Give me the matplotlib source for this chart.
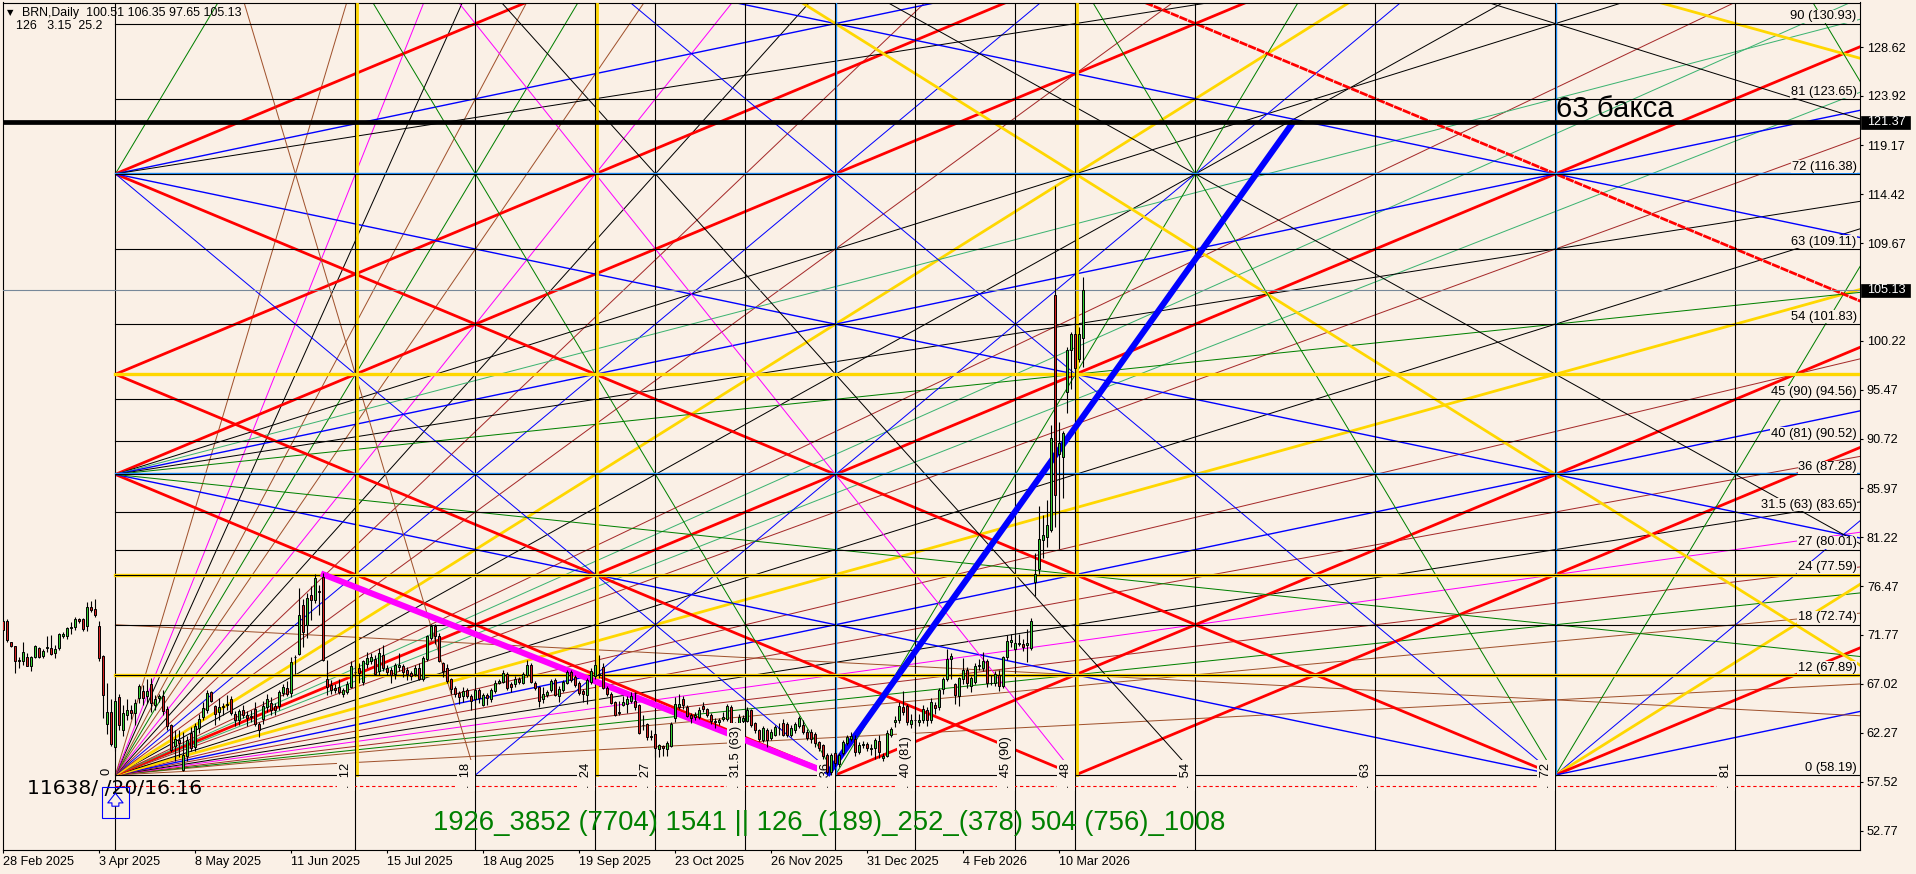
import matplotlib
matplotlib.use("Agg")
import matplotlib.pyplot as plt
from matplotlib.patches import FancyArrowPatch, Rectangle

BG = "#FAF0E6"
BROWN = "#A52A2A"
SIENNA = "#A0522D"
TEAL = "#3CB371"
GREEN = "#008000"
GOLD = "#FFD700"
BLUE = "#0000FF"
RED = "#FF0000"
MAG = "#FF00FF"
DODGER = "#1E90FF"

opens = [73.1, 73.1, 71.1, 70.7, 69.2, 69.2, 69.6, 68.7, 69.6, 70.5,
         69.7, 70.5, 70.5, 70.0, 70.5, 71.6, 71.6, 72.4, 72.5, 73.3,
         73.3, 72.6, 74.5, 74.3, 72.6, 69.7, 63.1, 64.3, 60.9, 65.7,
         62.5, 64.0, 64.5, 64.2, 65.6, 66.3, 65.8, 67.0, 65.0, 65.6,
         65.8, 64.6, 63.0, 61.0, 61.6, 58.7, 60.0, 62.3, 60.9, 62.7,
         63.8, 64.5, 66.2, 64.9, 64.3, 64.9, 65.0, 65.5, 64.1, 63.5,
         64.5, 64.0, 63.8, 64.6, 63.1, 63.6, 64.8, 65.2, 64.9, 64.9,
         66.1, 66.6, 66.1, 69.6, 69.9, 74.6, 72.7, 75.6, 75.1, 76.0,
         77.4, 67.5, 66.9, 66.6, 66.7, 66.0, 66.2, 66.7, 68.2, 68.5,
         67.2, 68.9, 69.2, 69.4, 68.3, 69.8, 68.5, 68.4, 68.0, 68.6,
         68.7, 68.4, 68.1, 68.0, 68.5, 67.5, 69.4, 71.5, 72.6, 71.6,
         69.0, 68.5, 67.5, 66.6, 66.1, 65.8, 66.4, 65.8, 65.5, 66.4,
         65.0, 65.9, 65.5, 66.3, 67.1, 67.2, 68.0, 67.0, 67.0, 67.5,
         67.1, 67.9, 68.8, 67.1, 66.7, 65.5, 65.9, 66.4, 67.4, 65.8,
         66.4, 67.1, 68.2, 67.7, 67.1, 66.3, 65.9, 67.2, 67.8, 67.9,
         68.6, 66.6, 66.0, 65.3, 64.2, 65.0, 65.1, 65.4, 65.4, 65.0,
         63.0, 63.1, 61.9, 62.2, 60.7, 61.0, 60.7, 61.0, 63.7, 64.8,
         65.5, 64.8, 64.0, 63.8, 63.8, 64.9, 64.6, 64.0, 63.4, 63.3,
         63.6, 63.6, 64.8, 62.4, 63.0, 63.4, 63.4, 64.5, 63.2, 62.5,
         61.6, 62.5, 61.8, 62.1, 62.7, 63.2, 63.1, 62.1, 62.5, 62.9,
         63.0, 62.4, 62.4, 62.2, 61.4, 61.1, 60.1, 58.5, 60.3, 59.3,
         60.3, 61.3, 61.7, 61.7, 60.4, 61.1, 61.2, 60.7, 60.8, 61.5,
         59.8, 60.0, 62.1, 63.3, 63.5, 64.8, 64.9, 63.1, 63.5, 63.3,
         63.5, 64.5, 63.5, 65.0, 64.8, 66.5, 67.5, 69.4, 67.0, 65.8,
         67.5, 68.4, 66.8, 67.2, 68.7, 68.5, 69.2, 67.1, 67.1, 67.9,
         66.8, 69.6, 71.1, 70.4, 70.9, 70.9, 70.8, 70.5, 76.9, 78.1,
         80.9, 81.2, 81.9, 104.7, 89.3, 89.0, 95.3, 99.3, 100.9, 98.5,
         100.51]
highs = [73.2, 73.3, 71.1, 70.7, 69.6, 71.1, 70.0, 69.7, 70.8, 70.6,
         70.4, 71.6, 71.7, 70.8, 71.9, 72.0, 72.5, 73.0, 73.5, 73.4,
         73.4, 74.9, 75.0, 75.2, 73.1, 69.8, 67.1, 65.5, 65.6, 66.0,
         65.0, 65.5, 65.0, 65.5, 67.0, 66.9, 67.5, 67.6, 65.9, 66.0,
         66.4, 64.9, 63.1, 62.5, 62.5, 62.4, 62.0, 62.8, 63.2, 64.1,
         65.3, 66.4, 66.3, 65.0, 65.6, 65.2, 65.9, 65.8, 64.4, 64.6,
         65.0, 64.4, 64.5, 65.3, 63.3, 65.4, 66.0, 65.7, 65.2, 66.4,
         67.0, 67.3, 69.6, 69.8, 76.3, 75.2, 75.8, 76.5, 77.6, 76.6,
         77.7, 69.3, 67.4, 67.0, 67.5, 66.6, 67.3, 69.2, 68.8, 69.0,
         69.3, 70.1, 70.0, 69.8, 70.5, 70.8, 68.8, 68.6, 69.0, 70.0,
         68.9, 68.6, 68.3, 68.8, 69.0, 69.7, 71.7, 72.8, 72.8, 71.9,
         69.1, 68.9, 67.6, 66.8, 66.3, 66.7, 66.6, 66.0, 66.5, 66.6,
         66.1, 66.1, 66.6, 67.4, 67.5, 68.4, 68.2, 67.2, 67.8, 67.7,
         68.2, 69.3, 69.0, 67.3, 66.8, 66.7, 66.4, 67.5, 67.6, 66.8,
         67.4, 68.4, 68.4, 67.9, 67.3, 66.5, 67.6, 68.5, 69.3, 69.8,
         69.0, 66.8, 66.2, 65.4, 65.4, 65.8, 65.8, 66.2, 66.2, 65.1,
         64.0, 63.2, 62.5, 62.3, 61.2, 61.1, 61.5, 63.3, 65.7, 66.0,
         65.8, 65.0, 64.2, 64.3, 64.8, 65.3, 64.7, 64.2, 63.7, 63.7,
         64.3, 65.1, 65.0, 63.3, 64.1, 64.0, 64.8, 64.6, 63.3, 62.6,
         62.9, 62.7, 62.6, 63.0, 63.2, 63.6, 63.3, 63.0, 63.3, 63.9,
         63.5, 62.6, 62.6, 62.4, 61.5, 61.2, 60.3, 60.3, 60.5, 60.3,
         61.6, 62.1, 62.4, 62.1, 61.4, 61.5, 61.4, 61.2, 61.8, 62.1,
         60.3, 62.5, 62.8, 63.9, 65.3, 66.3, 65.1, 64.1, 64.5, 64.1,
         65.0, 64.8, 65.6, 65.3, 66.6, 67.7, 70.4, 70.0, 67.1, 67.7,
         69.5, 68.6, 67.8, 69.0, 69.4, 70.1, 69.4, 67.9, 68.3, 68.4,
         69.7, 71.7, 71.8, 71.4, 71.8, 71.4, 72.3, 73.4, 79.7, 84.2,
         83.4, 84.8, 92.1, 115.2, 92.4, 91.5, 99.6, 101.1, 103.1, 101.6,
         106.35]
lows = [72.2, 71.1, 70.6, 68.1, 68.5, 68.8, 68.7, 68.3, 69.5, 69.5,
        69.5, 70.1, 69.8, 69.5, 70.3, 71.5, 71.4, 71.8, 72.2, 72.9,
        72.1, 72.1, 74.0, 73.5, 69.2, 63.7, 62.2, 61.0, 60.5, 62.5,
        62.0, 63.5, 63.6, 63.0, 65.2, 65.0, 65.2, 64.3, 64.5, 65.3,
        64.0, 62.5, 60.4, 59.5, 59.9, 58.6, 59.5, 60.5, 60.5, 62.3,
        63.5, 64.2, 65.3, 63.0, 63.5, 64.0, 64.5, 64.0, 62.9, 63.0,
        63.7, 62.9, 63.3, 62.9, 61.9, 63.1, 64.3, 64.0, 64.0, 64.5,
        65.8, 65.8, 65.7, 68.0, 69.8, 70.6, 71.5, 73.2, 74.8, 73.7,
        69.2, 65.9, 66.0, 66.1, 66.0, 65.7, 66.0, 66.6, 67.5, 67.1,
        66.9, 68.5, 68.9, 67.9, 67.9, 68.3, 67.9, 67.1, 67.5, 68.3,
        67.7, 67.4, 67.4, 67.8, 67.4, 67.3, 69.2, 71.3, 70.9, 69.1,
        67.7, 67.1, 66.0, 65.7, 65.1, 65.3, 65.6, 64.5, 65.2, 65.2,
        64.9, 65.0, 65.3, 66.1, 67.0, 67.1, 66.4, 66.2, 66.7, 67.0,
        67.0, 67.7, 67.1, 66.4, 64.8, 65.2, 65.7, 66.2, 65.8, 65.3,
        66.2, 67.0, 67.2, 66.7, 65.9, 65.3, 65.1, 67.0, 67.5, 67.6,
        66.5, 65.8, 65.1, 63.9, 64.0, 64.9, 64.2, 65.2, 64.5, 62.2,
        62.5, 61.6, 61.6, 59.9, 59.9, 60.0, 60.0, 60.9, 63.3, 64.6,
        64.6, 63.8, 63.2, 63.5, 63.6, 64.3, 63.8, 63.1, 62.7, 63.0,
        63.4, 63.4, 62.2, 62.2, 62.7, 63.2, 63.3, 62.8, 62.3, 61.5,
        61.4, 60.9, 61.6, 62.0, 62.1, 62.0, 61.9, 61.9, 62.3, 62.7,
        62.2, 61.6, 61.3, 60.9, 60.5, 59.7, 58.3, 58.2, 59.0, 59.0,
        60.1, 61.1, 61.5, 60.0, 60.2, 60.8, 60.5, 60.1, 59.7, 59.8,
        59.5, 59.9, 61.9, 62.8, 63.2, 64.0, 63.0, 62.7, 62.9, 62.9,
        63.2, 62.9, 63.2, 64.1, 64.5, 66.0, 67.3, 67.5, 65.1, 64.9,
        67.0, 66.6, 66.2, 67.0, 68.4, 68.3, 66.7, 66.9, 66.8, 66.3,
        66.6, 69.3, 70.6, 70.2, 70.7, 70.2, 69.1, 70.3, 75.5, 77.6,
        79.2, 80.3, 81.7, 82.2, 80.1, 85.0, 93.2, 95.6, 96.8, 98.2,
        97.65]
closes = [72.2, 71.3, 70.7, 69.2, 69.3, 70.1, 68.7, 69.6, 70.7, 69.6,
          70.2, 70.6, 69.9, 70.4, 71.8, 71.8, 72.4, 72.5, 73.3, 73.1,
          72.3, 74.5, 74.2, 73.7, 69.5, 65.9, 64.3, 61.2, 65.4, 63.0,
          64.2, 64.5, 64.2, 65.2, 66.8, 65.6, 66.3, 65.2, 65.5, 65.8,
          64.4, 62.9, 60.6, 61.7, 61.3, 60.1, 61.6, 60.8, 62.9, 63.6,
          64.7, 66.1, 65.4, 64.1, 64.8, 64.8, 65.1, 64.2, 63.5, 64.4,
          64.0, 63.7, 63.9, 63.1, 62.5, 64.9, 65.5, 64.5, 64.5, 66.2,
          66.7, 66.0, 69.1, 69.6, 73.7, 72.0, 75.3, 75.1, 77.3, 75.9,
          69.3, 66.7, 66.4, 66.4, 66.2, 66.4, 67.0, 68.7, 68.2, 68.1,
          69.2, 69.5, 69.6, 68.0, 70.0, 68.5, 68.2, 67.9, 68.8, 68.8,
          68.2, 68.0, 67.8, 68.5, 67.5, 69.5, 71.6, 72.6, 71.6, 69.2,
          68.3, 67.3, 66.5, 66.0, 65.7, 66.3, 65.8, 65.4, 66.4, 65.6,
          65.9, 65.6, 66.4, 67.1, 67.3, 68.1, 66.6, 66.7, 67.5, 67.2,
          68.0, 68.8, 67.2, 66.6, 65.4, 66.0, 66.2, 67.3, 65.9, 66.5,
          67.2, 68.2, 67.4, 66.9, 66.1, 66.0, 67.4, 68.3, 68.8, 68.0,
          66.6, 66.0, 65.2, 64.0, 64.3, 65.3, 65.5, 65.8, 64.8, 62.3,
          63.0, 61.9, 62.0, 60.8, 61.1, 60.8, 61.3, 63.1, 65.1, 65.1,
          65.0, 63.9, 63.7, 64.0, 64.5, 64.6, 64.0, 63.4, 63.3, 63.5,
          63.8, 64.9, 62.4, 62.6, 63.8, 63.7, 64.5, 63.0, 62.5, 61.7,
          62.7, 61.6, 62.4, 62.8, 62.7, 62.1, 62.1, 62.7, 63.1, 63.7,
          62.4, 61.8, 61.7, 61.3, 60.8, 60.0, 58.5, 60.1, 59.4, 60.1,
          61.4, 61.9, 62.0, 60.4, 61.1, 61.2, 60.8, 60.8, 61.6, 60.4,
          60.0, 62.3, 62.6, 63.5, 64.9, 64.3, 63.3, 63.5, 63.5, 63.5,
          64.6, 63.5, 65.3, 64.7, 66.4, 67.5, 69.4, 69.7, 65.9, 67.6,
          68.4, 67.1, 67.6, 68.7, 68.8, 69.2, 67.1, 67.1, 68.0, 66.8,
          69.6, 71.2, 71.3, 71.0, 71.0, 70.6, 71.0, 73.1, 77.6, 81.0,
          81.4, 82.4, 90.8, 85.3, 90.3, 91.3, 99.3, 100.9, 97.6, 100.9,
          105.13]

tick_dates = ["28 Feb 2025", "3 Apr 2025", "8 May 2025", "11 Jun 2025", "15 Jul 2025",
              "18 Aug 2025", "19 Sep 2025", "23 Oct 2025", "26 Nov 2025", "31 Dec 2025",
              "4 Feb 2026", "10 Mar 2026"]
tick_bars = [0, 24, 48, 72, 96, 120, 144, 168, 192, 216, 240, 264]
price_ticks = [128.62, 123.92, 119.17, 114.42, 109.67, 100.22, 95.47, 90.72, 85.97,
               81.22, 76.47, 71.77, 67.02, 62.27, 57.52, 52.77]

level_deg = [0, 12, 18, 24, 27, 31.5, 36, 40, 45, 54, 63, 72, 81, 90]
level_names = ["0 (58.19)", "12 (67.89)", "18 (72.74)", "24 (77.59)", "27 (80.01)",
               "31.5 (63) (83.65)", "36 (87.28)", "40 (81) (90.52)", "45 (90) (94.56)",
               "54 (101.83)", "63 (109.11)", "72 (116.38)", "81 (123.65)", "90 (130.93)"]
level_prices = [58.19, 67.89, 72.74, 77.59, 80.01, 83.65, 87.28, 90.52, 94.56,
                101.83, 109.11, 116.38, 123.65, 130.93]
time_deg = [12, 18, 24, 27, 31.5, 36, 40, 45, 48, 54, 63, 72, 81]
time_names = ["12", "18", "24", "27", "31.5 (63)", "36", "40 (81)", "45 (90)", "48", "54", "63", "72", "81"]

# fan from the low, slope in degrees of price per degree of time
origin_slopes = [1/8, 2/9, 1/4, 2/7, 1/3, 3/8, 7/16, 1/2, 4/7, 2/3, 3/4, 7/8, 15/16, 1,
                 16/15, 8/7, 4/3, 3/2, 7/4, 2, 16/7, 8/3, 3, 7/2, 4, 9/2, 16/3, 6, 8]
origin_colors = [SIENNA, SIENNA, GREEN, BROWN, MAG, "black", BROWN, BLUE, BROWN, GOLD, "black", BROWN, TEAL, RED,
                 TEAL, BROWN, "black", GOLD, BROWN, BLUE, BROWN, "black", MAG, SIENNA, GREEN, SIENNA, "black", MAG, SIENNA]

# other rays: start time, start degree, slope, colour
ray_times = [0, 0, 0, 0, 0, 0, 0, 0, 0, 0, 0,
             18, 36, 36, 48, 72, 72, 72, 72, 72,
             0, 0, 0, 0, 0, 0, 0, 0, 0, 0,
             0, 0, 0, 0, 0, 0, 0, 0, 0, 0, 0]
ray_degs = [36, 36, 36, 36, 36, 36, 48, 72, 72, 72, 72,
            0, 0, 0, 0, 0, 0, 0, 0, 0,
            18, 36, 36, 36, 48, 72, 72, 72, 108, 144,
            144, 144, 144, 144, 144, 144, 144, 144, 144, 288, 432]
ray_slopes = [1, 3/4, 5/8, 1/2, 3/8, 1/4, 1, 4, 1, 1/2, 3/8,
              2, 4, 1, 1, 4, 2, 3/2, 1, 1/2,
              -1/8, -1, -1/2, -1/4, -1, -1, -1/2, -2, -1/2, -1,
              -2, -4, -8/3, -3, -8, -4/3, -3/4, -3/2, -2/3, -4, -4]
ray_colors = [RED, "black", TEAL, BLUE, "black", GREEN, RED, GREEN, RED, BLUE, "black",
              BLUE, GREEN, RED, RED, GREEN, BLUE, GOLD, RED, BLUE,
              SIENNA, RED, BLUE, GREEN, RED, RED, BLUE, BLUE, BLUE, RED,
              BLUE, GREEN, "black", MAG, SIENNA, "black", "black", GOLD, GOLD, GREEN, GREEN]

DEG = 0.8082
BARS_PER_DEG = 5
BAR0 = 28.1
TMAX = 110
FS_AXIS = 9.1
FS_LABEL = 9.3


def to_bar(t):
    return BAR0 + BARS_PER_DEG * t


def to_price(d):
    return level_prices[0] + DEG * d


def line_width(color, slope):
    if color in (RED, GOLD):
        return 2.0
    if color == BLUE and abs(slope) == 0.5:
        return 1.0
    return 0.72


def draw_ray(ax, t0, d0, slope, color):
    if slope < 0:
        t1 = t0 - d0 / slope
    else:
        t1 = TMAX
    d1 = d0 + slope * (t1 - t0)
    style = (0, (3, 0.35)) if (d0 == 144 and slope == -1) else "-"
    ax.plot([to_bar(t0), to_bar(t1)], [to_price(d0), to_price(d1)], color=color, ls=style,
            lw=line_width(color, slope), zorder=2, solid_capstyle="butt")


def draw_candles(ax):
    for i in range(len(opens)):
        up = closes[i] >= opens[i]
        ax.plot([i, i], [lows[i], highs[i]], color="black", lw=0.8, zorder=6, solid_capstyle="butt")
        ax.bar(i, abs(closes[i] - opens[i]), bottom=min(opens[i], closes[i]), width=0.62,
               color="#32CD32" if up else "#D42020", edgecolor="black", linewidth=0.7, zorder=7)


def main():
    plt.rcParams["font.family"] = ["Liberation Sans", "DejaVu Sans"]
    fig = plt.figure(figsize=(19.16, 8.74), dpi=100, facecolor=BG)
    ax = fig.add_axes([2.5 / 1916, 24 / 874, 1857 / 1916, 847.5 / 874], facecolor=BG)
    xlim = (-0.125, 464.1)
    ax.set_xlim(xlim)
    ax.set_ylim(50.93, 132.97)

    # fans
    for s, col in zip(origin_slopes, origin_colors):
        draw_ray(ax, 0, 0, s, col)
    for t0, d0, s, col in zip(ray_times, ray_degs, ray_slopes, ray_colors):
        draw_ray(ax, t0, d0, s, col)

    # vertical lines
    ax.axvline(to_bar(0), color="black", lw=0.8, zorder=3)
    for t in time_deg:
        if t in (12, 24, 48):
            ax.plot([to_bar(t) + 0.45] * 2, [level_prices[0], 133], color=GOLD, lw=2.0, zorder=3)
        if t in (36, 72):
            ax.plot([to_bar(t) + 0.25] * 2, [level_prices[0], 133], color=DODGER, lw=1.0, zorder=3)
        ax.axvline(to_bar(t), color="black", lw=0.8, zorder=3)

    # horizontal levels
    x0 = to_bar(0)
    for d, price in zip(level_deg, level_prices):
        if d in (12, 24):
            ax.plot([x0, xlim[1]], [price, price], color=GOLD, lw=2.4, zorder=3)
        if d in (36, 72):
            ax.plot([x0, xlim[1]], [price + 0.1, price + 0.1], color=DODGER, lw=1.0, zorder=3)
        ax.plot([x0, xlim[1]], [price, price], color="black", lw=0.8, zorder=3)
    ax.plot([x0, xlim[1]], [to_price(48)] * 2, color=GOLD, lw=2.4, zorder=3)
    ax.plot([x0, xlim[1]], [57.12, 57.12], color=RED, lw=0.8, ls=(0, (3, 2.5)), zorder=3)

    # trend lines and marks
    ax.plot([206, 322.5], [58.19, 121.37], color=BLUE, lw=4.4, zorder=5, solid_capstyle="butt")
    ax.plot([80.2, 203], [77.59, 58.9], color=MAG, lw=4.4, zorder=4, solid_capstyle="projecting")
    ax.axhline(121.37, color="black", lw=3.4, zorder=5)
    ax.axhline(105.13, color="#778899", lw=0.8, zorder=3)

    draw_candles(ax)

    # level labels on the right
    for name, price in zip(level_names, level_prices):
        ax.text(463.4, price + 0.12, name, ha="right", va="bottom", fontsize=FS_LABEL, color="black", zorder=8,
                bbox=dict(facecolor=BG, edgecolor="none", pad=0.4))

    # rotated time labels next to the vertical lines
    for t, name in zip(time_deg, time_names):
        ax.text(to_bar(t) - 2.45, 56.9, ".  " + name, rotation=90, ha="center", va="bottom",
                fontsize=FS_LABEL, color="black", zorder=4.5 if t == 36 else 8,
                bbox=dict(facecolor=BG, edgecolor="none", pad=2.2))
    ax.text(to_bar(0) - 2.3, 58.5, "0", rotation=90, ha="center", va="center", fontsize=FS_LABEL,
            color="black", zorder=8)

    # notes
    ax.text(1556 / 4 - 0.75, 121.89, "63 бакса", fontsize=21.2, color="black", va="baseline", zorder=9)
    ax.text(5.9, 56.33, "11638/ /20/16.16", family=["DejaVu Sans"], fontsize=14.6, color="black",
            va="baseline", zorder=9)
    ax.text(107.4, 52.9, "1926_3852 (7704) 1541 || 126_(189)_252_(378) 504 (756)_1008",
            fontsize=19.8, color=GREEN, va="baseline", zorder=9)
    ax.add_patch(Rectangle((24.75, 54.0), 6.65, 3.06, fill=False, edgecolor=BLUE, lw=0.8, zorder=9))
    ax.add_patch(FancyArrowPatch((28.1, 54.9), (28.1, 56.7), arrowstyle="simple,head_length=7,head_width=11,tail_width=5",
                                 facecolor=BG, edgecolor=BLUE, lw=0.8, zorder=9))

    # header
    fig.text(6.5 / 1916, 1 - 12.7 / 874, "▼", family=["DejaVu Sans"], fontsize=6, va="center")
    fig.text(21.7 / 1916, 1 - 12.7 / 874, "BRN,Daily  100.51 106.35 97.65 105.13", fontsize=8.9, va="center")
    fig.text(15.7 / 1916, 1 - 26 / 874, "126   3.15  25.2", fontsize=8.9, va="center")

    # price boxes on the axis
    trans = ax.get_yaxis_transform()
    for price in (121.37, 105.13):
        ax.add_patch(Rectangle((1.0008, price - 0.62), 0.0264, 1.24, transform=trans, facecolor="black",
                               edgecolor="black", lw=0.5, clip_on=False, zorder=10))
        ax.text(1.0039, price, f"{price:.2f}", transform=trans, color="white", fontsize=FS_AXIS,
                va="center", ha="left", clip_on=False, zorder=11)

    # axes
    ax.yaxis.tick_right()
    ax.set_yticks(price_ticks)
    ax.set_yticklabels([f"{p:.2f}" for p in price_ticks], fontsize=FS_AXIS)
    ax.tick_params(axis="y", length=2.5, width=0.8, pad=2.8)
    ax.set_xticks(tick_bars)
    ax.set_xticklabels(tick_dates, fontsize=FS_AXIS, ha="left")
    ax.tick_params(axis="x", length=2.2, width=0.8, pad=2.0)
    for spine in ax.spines.values():
        spine.set_linewidth(0.8)

    fig.savefig("out.png", dpi=100, facecolor=BG)


if __name__ == "__main__":
    main()
